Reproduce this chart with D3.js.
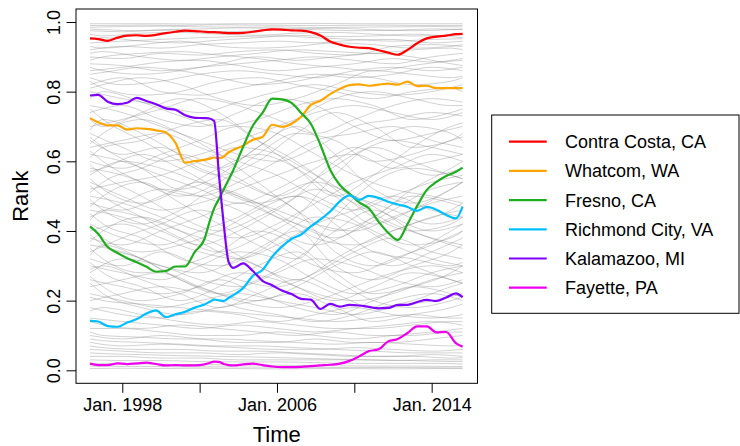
<!DOCTYPE html>
<html>
<head>
<meta charset="utf-8" />
<title>Rank over time</title>
<style>
    html, body { margin: 0; padding: 0; background: #fff; }
    svg { display: block; }
    text { font-family: "Liberation Sans", Arial, Helvetica, sans-serif; }
</style>
</head>
<body>
<svg width="740" height="446"></svg>
<script src="https://cdn.jsdelivr.net/npm/d3@7"></script>
<script>
// time grid (decimal years) shared by the highlighted counties
var years = [1996.33, 1996.75, 1997.25, 1997.75, 1998.25, 1998.75, 1999.25, 1999.75, 2000.25, 2000.75,
    2001.25, 2001.75, 2002.25, 2002.5, 2002.75, 2003.0, 2003.25, 2003.5, 2003.75,
    2004.25, 2004.75, 2005.25, 2005.75, 2006.25, 2006.75, 2007.25, 2007.75, 2008.25, 2008.75,
    2009.25, 2009.75, 2010.25, 2010.75, 2011.25, 2011.75, 2012.25, 2012.75, 2013.25, 2013.75,
    2014.25, 2014.75, 2015.25, 2015.6];

var contraCosta = [0.953, 0.951, 0.946, 0.955, 0.961, 0.962, 0.960, 0.963, 0.968, 0.972, 0.975, 0.974, 0.972,
    0.971, 0.971, 0.970, 0.969, 0.968, 0.968,
    0.969, 0.972, 0.976, 0.979, 0.978, 0.976, 0.975, 0.971, 0.961, 0.944, 0.935, 0.929, 0.926, 0.925,
    0.919, 0.912, 0.906, 0.920, 0.939, 0.953, 0.958, 0.961, 0.965, 0.966];
var whatcom = [0.724, 0.712, 0.703, 0.703, 0.691, 0.695, 0.693, 0.689, 0.683, 0.653, 0.596, 0.601, 0.604,
    0.607, 0.611, 0.609, 0.614, 0.626, 0.633,
    0.645, 0.662, 0.670, 0.705, 0.699, 0.708, 0.728, 0.762, 0.774, 0.793, 0.808, 0.819, 0.821, 0.817,
    0.820, 0.823, 0.820, 0.829, 0.816, 0.817, 0.810, 0.810, 0.810, 0.810];
var fresno = [0.413, 0.392, 0.354, 0.337, 0.322, 0.310, 0.297, 0.283, 0.285, 0.298, 0.298, 0.340, 0.377,
    0.424, 0.465, 0.492, 0.520, 0.547, 0.576,
    0.642, 0.702, 0.739, 0.780, 0.778, 0.768, 0.739, 0.708, 0.647, 0.576, 0.532, 0.507, 0.482, 0.465,
    0.427, 0.395, 0.374, 0.420, 0.472, 0.518, 0.541, 0.558, 0.570, 0.582];
var richmond = [0.142, 0.140, 0.127, 0.125, 0.137, 0.147, 0.163, 0.172, 0.153, 0.161, 0.168, 0.180, 0.189,
    0.196, 0.203, 0.201, 0.199, 0.208, 0.216,
    0.236, 0.271, 0.288, 0.326, 0.355, 0.377, 0.390, 0.413, 0.433, 0.456, 0.485, 0.502, 0.489, 0.501,
    0.495, 0.484, 0.476, 0.469, 0.458, 0.469, 0.461, 0.446, 0.436, 0.470];
var kalamazoo = [0.789, 0.791, 0.771, 0.764, 0.768, 0.782, 0.773, 0.764, 0.752, 0.748, 0.732, 0.725, 0.724,
    0.723, 0.716, 0.561, 0.418, 0.311, 0.294,
    0.307, 0.285, 0.257, 0.244, 0.229, 0.219, 0.205, 0.203, 0.176, 0.191, 0.183, 0.188, 0.186, 0.182,
    0.178, 0.179, 0.188, 0.188, 0.196, 0.202, 0.199, 0.209, 0.221, 0.210];
var fayette = [0.019, 0.015, 0.015, 0.020, 0.018, 0.020, 0.022, 0.018, 0.014, 0.015, 0.014, 0.014, 0.017,
    0.021, 0.025, 0.024, 0.018, 0.015, 0.014,
    0.017, 0.019, 0.015, 0.011, 0.009, 0.009, 0.010, 0.012, 0.014, 0.016, 0.019, 0.027, 0.040, 0.055,
    0.060, 0.083, 0.090, 0.107, 0.126, 0.126, 0.109, 0.110, 0.078, 0.068];

var seriesNames = ["Contra Costa, CA", "Whatcom, WA", "Fresno, CA", "Richmond City, VA", "Kalamazoo, MI", "Fayette, PA"];
var seriesColors = ["#ff0000", "#ffa500", "#1fae1f", "#00bfff", "#7f00ff", "#ee00ee"];
var seriesValues = [contraCosta, whatcom, fresno, richmond, kalamazoo, fayette];

// all other counties, two coarse grids
var bgYears = [1996.33, 1998, 2000, 2002, 2004, 2006, 2008, 2010, 2012, 2014, 2015.6];
var bgSeries = [
    [0.995, 0.995, 0.995, 0.994, 0.995, 0.995, 0.996, 0.995, 0.995, 0.995, 0.995],
    [0.985, 0.987, 0.988, 0.986, 0.985, 0.986, 0.984, 0.985, 0.986, 0.987, 0.986],
    [0.975, 0.972, 0.978, 0.980, 0.983, 0.982, 0.978, 0.975, 0.976, 0.980, 0.978],
    [0.94, 0.945, 0.95, 0.955, 0.958, 0.96, 0.955, 0.95, 0.945, 0.95, 0.952],
    [0.92, 0.93, 0.925, 0.935, 0.94, 0.945, 0.94, 0.948, 0.95, 0.94, 0.945],
    [0.90, 0.895, 0.91, 0.905, 0.915, 0.92, 0.91, 0.905, 0.93, 0.935, 0.93],
    [0.88, 0.875, 0.86, 0.87, 0.88, 0.89, 0.9, 0.89, 0.88, 0.9, 0.91],
    [0.86, 0.87, 0.885, 0.89, 0.875, 0.86, 0.87, 0.88, 0.895, 0.885, 0.89],
    [0.84, 0.82, 0.83, 0.85, 0.86, 0.85, 0.84, 0.86, 0.87, 0.86, 0.87],
    [0.82, 0.84, 0.8, 0.79, 0.81, 0.83, 0.85, 0.84, 0.85, 0.87, 0.86],
    [0.80, 0.78, 0.76, 0.74, 0.77, 0.8, 0.82, 0.8, 0.79, 0.8, 0.82],
    [0.76, 0.74, 0.7, 0.66, 0.62, 0.6, 0.64, 0.7, 0.72, 0.74, 0.73],
    [0.74, 0.76, 0.72, 0.7, 0.74, 0.78, 0.76, 0.7, 0.66, 0.68, 0.7],
    [0.70, 0.72, 0.75, 0.78, 0.76, 0.72, 0.68, 0.72, 0.76, 0.78, 0.77],
    [0.68, 0.64, 0.6, 0.62, 0.66, 0.7, 0.74, 0.76, 0.74, 0.72, 0.74],
    [0.66, 0.62, 0.64, 0.58, 0.54, 0.5, 0.55, 0.62, 0.66, 0.64, 0.62],
    [0.64, 0.66, 0.68, 0.64, 0.6, 0.56, 0.5, 0.46, 0.5, 0.54, 0.56],
    [0.62, 0.6, 0.56, 0.52, 0.48, 0.52, 0.58, 0.64, 0.6, 0.56, 0.58],
    [0.60, 0.58, 0.62, 0.66, 0.7, 0.68, 0.62, 0.56, 0.52, 0.5, 0.48],
    [0.58, 0.56, 0.52, 0.5, 0.54, 0.6, 0.66, 0.68, 0.7, 0.66, 0.64],
    [0.56, 0.6, 0.58, 0.54, 0.5, 0.46, 0.42, 0.4, 0.44, 0.48, 0.5],
    [0.54, 0.5, 0.46, 0.48, 0.52, 0.56, 0.6, 0.62, 0.58, 0.6, 0.62],
    [0.52, 0.54, 0.56, 0.6, 0.64, 0.62, 0.56, 0.5, 0.46, 0.42, 0.44],
    [0.50, 0.48, 0.44, 0.4, 0.38, 0.42, 0.48, 0.54, 0.58, 0.62, 0.6],
    [0.48, 0.46, 0.5, 0.54, 0.5, 0.44, 0.38, 0.36, 0.4, 0.44, 0.46],
    [0.46, 0.44, 0.4, 0.36, 0.4, 0.46, 0.52, 0.48, 0.42, 0.38, 0.36],
    [0.44, 0.48, 0.52, 0.5, 0.46, 0.4, 0.36, 0.4, 0.46, 0.52, 0.54],
    [0.42, 0.38, 0.36, 0.4, 0.44, 0.5, 0.54, 0.5, 0.44, 0.4, 0.42],
    [0.40, 0.42, 0.38, 0.34, 0.32, 0.36, 0.42, 0.46, 0.5, 0.46, 0.44],
    [0.38, 0.36, 0.4, 0.44, 0.48, 0.44, 0.4, 0.34, 0.3, 0.34, 0.38],
    [0.36, 0.34, 0.3, 0.28, 0.32, 0.38, 0.44, 0.42, 0.36, 0.32, 0.3],
    [0.34, 0.38, 0.42, 0.46, 0.42, 0.36, 0.3, 0.28, 0.32, 0.36, 0.4],
    [0.32, 0.3, 0.34, 0.3, 0.26, 0.24, 0.28, 0.34, 0.38, 0.34, 0.32],
    [0.30, 0.28, 0.26, 0.3, 0.34, 0.32, 0.26, 0.22, 0.24, 0.28, 0.3],
    [0.28, 0.32, 0.3, 0.26, 0.24, 0.28, 0.32, 0.3, 0.26, 0.24, 0.26],
    [0.26, 0.24, 0.22, 0.24, 0.28, 0.26, 0.22, 0.2, 0.22, 0.26, 0.28],
    [0.24, 0.26, 0.28, 0.24, 0.2, 0.18, 0.2, 0.24, 0.28, 0.3, 0.28],
    [0.22, 0.2, 0.18, 0.2, 0.22, 0.2, 0.18, 0.16, 0.18, 0.2, 0.22],
    [0.20, 0.22, 0.24, 0.22, 0.18, 0.16, 0.14, 0.16, 0.2, 0.22, 0.2],
    [0.18, 0.16, 0.15, 0.17, 0.16, 0.14, 0.16, 0.18, 0.16, 0.15, 0.16],
    [0.15, 0.14, 0.13, 0.12, 0.13, 0.12, 0.11, 0.12, 0.13, 0.14, 0.13],
    [0.12, 0.12, 0.11, 0.1, 0.1, 0.11, 0.1, 0.09, 0.1, 0.11, 0.12],
    [0.10, 0.09, 0.1, 0.09, 0.08, 0.08, 0.09, 0.08, 0.08, 0.09, 0.1],
    [0.08, 0.07, 0.075, 0.07, 0.065, 0.06, 0.06, 0.065, 0.06, 0.055, 0.06],
    [0.06, 0.055, 0.05, 0.05, 0.045, 0.05, 0.045, 0.04, 0.04, 0.045, 0.04],
    [0.04, 0.04, 0.035, 0.035, 0.03, 0.03, 0.03, 0.03, 0.028, 0.03, 0.03],
    [0.03, 0.028, 0.028, 0.025, 0.024, 0.024, 0.022, 0.02, 0.02, 0.02, 0.018],
    [0.005, 0.006, 0.005, 0.006, 0.005, 0.004, 0.005, 0.005, 0.004, 0.005, 0.005]
];

var bgYears2 = [1996.33, 1997, 1999, 2001, 2003, 2005, 2007, 2009, 2011, 2013, 2015, 2015.6];
var bgSeries2 = [
    [0.99, 0.99, 0.991, 0.99, 0.992, 0.991, 0.99, 0.99, 0.991, 0.99, 0.99, 0.99],
    [0.98, 0.978, 0.975, 0.977, 0.972, 0.975, 0.98, 0.982, 0.978, 0.975, 0.978, 0.98],
    [0.965, 0.96, 0.968, 0.97, 0.965, 0.962, 0.968, 0.97, 0.965, 0.96, 0.962, 0.965],
    [0.95, 0.955, 0.945, 0.94, 0.948, 0.955, 0.962, 0.958, 0.96, 0.965, 0.958, 0.955],
    [0.93, 0.925, 0.935, 0.945, 0.93, 0.925, 0.93, 0.94, 0.935, 0.925, 0.93, 0.935],
    [0.91, 0.915, 0.9, 0.89, 0.9, 0.91, 0.92, 0.915, 0.91, 0.92, 0.925, 0.92],
    [0.89, 0.9, 0.91, 0.915, 0.905, 0.895, 0.88, 0.87, 0.86, 0.875, 0.89, 0.895],
    [0.87, 0.86, 0.85, 0.86, 0.88, 0.9, 0.89, 0.9, 0.91, 0.9, 0.88, 0.875],
    [0.85, 0.855, 0.87, 0.86, 0.84, 0.82, 0.83, 0.85, 0.84, 0.82, 0.83, 0.84],
    [0.83, 0.81, 0.79, 0.8, 0.83, 0.84, 0.82, 0.8, 0.78, 0.8, 0.81, 0.8],
    [0.81, 0.82, 0.84, 0.82, 0.78, 0.76, 0.78, 0.82, 0.86, 0.85, 0.84, 0.845],
    [0.78, 0.8, 0.77, 0.73, 0.7, 0.72, 0.76, 0.78, 0.76, 0.72, 0.74, 0.75],
    [0.75, 0.72, 0.66, 0.6, 0.56, 0.6, 0.68, 0.74, 0.7, 0.64, 0.66, 0.68],
    [0.72, 0.7, 0.74, 0.78, 0.74, 0.66, 0.58, 0.5, 0.56, 0.64, 0.7, 0.71],
    [0.69, 0.72, 0.68, 0.62, 0.58, 0.64, 0.72, 0.78, 0.8, 0.78, 0.76, 0.76],
    [0.67, 0.64, 0.58, 0.52, 0.56, 0.64, 0.7, 0.62, 0.52, 0.48, 0.52, 0.54],
    [0.65, 0.68, 0.72, 0.68, 0.62, 0.54, 0.46, 0.4, 0.44, 0.52, 0.58, 0.6],
    [0.63, 0.6, 0.54, 0.5, 0.54, 0.62, 0.68, 0.66, 0.6, 0.62, 0.66, 0.67],
    [0.61, 0.64, 0.66, 0.7, 0.72, 0.66, 0.6, 0.52, 0.44, 0.4, 0.42, 0.44],
    [0.59, 0.56, 0.5, 0.44, 0.4, 0.44, 0.5, 0.6, 0.66, 0.7, 0.68, 0.66],
    [0.57, 0.58, 0.62, 0.58, 0.52, 0.48, 0.5, 0.46, 0.4, 0.36, 0.38, 0.4],
    [0.55, 0.52, 0.48, 0.52, 0.58, 0.62, 0.58, 0.5, 0.42, 0.46, 0.52, 0.54],
    [0.53, 0.5, 0.44, 0.38, 0.34, 0.38, 0.44, 0.56, 0.64, 0.6, 0.56, 0.55],
    [0.51, 0.54, 0.58, 0.62, 0.58, 0.52, 0.46, 0.34, 0.3, 0.34, 0.4, 0.42],
    [0.49, 0.46, 0.42, 0.46, 0.52, 0.48, 0.42, 0.38, 0.44, 0.5, 0.48, 0.47],
    [0.47, 0.5, 0.54, 0.48, 0.42, 0.36, 0.32, 0.44, 0.54, 0.58, 0.56, 0.55],
    [0.45, 0.42, 0.38, 0.32, 0.3, 0.34, 0.4, 0.3, 0.26, 0.3, 0.34, 0.36],
    [0.43, 0.46, 0.44, 0.4, 0.36, 0.3, 0.26, 0.32, 0.38, 0.42, 0.46, 0.48],
    [0.41, 0.38, 0.34, 0.36, 0.4, 0.46, 0.5, 0.42, 0.34, 0.32, 0.3, 0.31],
    [0.39, 0.36, 0.32, 0.26, 0.22, 0.26, 0.32, 0.4, 0.46, 0.4, 0.36, 0.35],
    [0.37, 0.4, 0.44, 0.4, 0.34, 0.3, 0.24, 0.2, 0.24, 0.28, 0.26, 0.25],
    [0.35, 0.32, 0.28, 0.3, 0.34, 0.4, 0.36, 0.28, 0.22, 0.24, 0.28, 0.3],
    [0.33, 0.36, 0.32, 0.26, 0.22, 0.2, 0.24, 0.3, 0.34, 0.3, 0.26, 0.25],
    [0.31, 0.28, 0.24, 0.2, 0.24, 0.3, 0.34, 0.26, 0.2, 0.18, 0.2, 0.21],
    [0.29, 0.3, 0.26, 0.22, 0.18, 0.22, 0.26, 0.22, 0.18, 0.2, 0.24, 0.25],
    [0.27, 0.24, 0.2, 0.22, 0.26, 0.22, 0.18, 0.16, 0.2, 0.24, 0.22, 0.21],
    [0.25, 0.22, 0.18, 0.16, 0.18, 0.2, 0.22, 0.18, 0.14, 0.16, 0.18, 0.19],
    [0.21, 0.2, 0.19, 0.18, 0.17, 0.16, 0.15, 0.14, 0.15, 0.16, 0.15, 0.15],
    [0.17, 0.18, 0.16, 0.14, 0.13, 0.14, 0.13, 0.12, 0.12, 0.13, 0.14, 0.14],
    [0.14, 0.13, 0.12, 0.13, 0.12, 0.11, 0.1, 0.11, 0.1, 0.1, 0.11, 0.11],
    [0.11, 0.1, 0.095, 0.09, 0.09, 0.085, 0.08, 0.075, 0.08, 0.075, 0.07, 0.072],
    [0.09, 0.085, 0.08, 0.075, 0.07, 0.07, 0.065, 0.06, 0.055, 0.05, 0.05, 0.05],
    [0.07, 0.065, 0.06, 0.06, 0.055, 0.055, 0.05, 0.045, 0.04, 0.04, 0.035, 0.036],
    [0.05, 0.048, 0.045, 0.042, 0.04, 0.038, 0.035, 0.032, 0.03, 0.028, 0.025, 0.025],
    [0.02, 0.02, 0.018, 0.017, 0.016, 0.015, 0.014, 0.013, 0.012, 0.012, 0.011, 0.011],
    [0.012, 0.012, 0.011, 0.01, 0.01, 0.009, 0.009, 0.008, 0.008, 0.008, 0.007, 0.007]
];

var xTickYears = [1998, 2002, 2006, 2010, 2014];
var xTickLabels = ["Jan. 1998", "", "Jan. 2006", "", "Jan. 2014"];
var yTicks = [0, 0.2, 0.4, 0.6, 0.8, 1.0];

var svg = d3.select("svg");
var box = { left: 76, top: 9, right: 477.5, bottom: 383.3 };

var x = d3.scaleLinear().domain([1996.33, 2015.6]).range([90, 462.6]);
var y = d3.scaleLinear().domain([0, 1]).range([370.3, 22]);

// background counties
function bgLayer(grid, rows) {
    var l = d3.line()
        .x(function (d, i) { return x(grid[i]); })
        .y(function (d) { return y(d); })
        .curve(d3.curveMonotoneX);
    svg.append("g")
        .selectAll("path")
        .data(rows)
        .enter().append("path")
        .attr("d", l)
        .attr("fill", "none")
        .attr("stroke", "#7a7a7a")
        .attr("stroke-opacity", 0.38)
        .attr("stroke-width", 0.9);
}
bgLayer(bgYears, bgSeries);
bgLayer(bgYears2, bgSeries2);

// highlighted counties
var line = d3.line()
    .x(function (d, i) { return x(years[i]); })
    .y(function (d) { return y(d); })
    .curve(d3.curveMonotoneX);

svg.append("g")
    .selectAll("path")
    .data(seriesValues)
    .enter().append("path")
    .attr("d", line)
    .attr("fill", "none")
    .attr("stroke", function (d, i) { return seriesColors[i]; })
    .attr("stroke-width", 2.2)
    .attr("stroke-linejoin", "round");

// plot frame
svg.append("rect")
    .attr("x", box.left).attr("y", box.top)
    .attr("width", box.right - box.left).attr("height", box.bottom - box.top)
    .attr("fill", "none").attr("stroke", "#000").attr("stroke-width", 1);

// axes
var xAxis = svg.append("g")
    .attr("transform", "translate(0," + box.bottom + ")")
    .call(d3.axisBottom(x).tickValues(xTickYears)
        .tickFormat(function (d, i) { return xTickLabels[i]; })
        .tickSize(9.5).tickSizeOuter(0).tickPadding(5.5));

var yAxis = svg.append("g")
    .attr("transform", "translate(" + box.left + ",0)")
    .call(d3.axisLeft(y).tickValues(yTicks).tickFormat(d3.format(".1f"))
        .tickSize(9.5).tickSizeOuter(0));

yAxis.selectAll(".tick text")
    .attr("x", null).attr("dy", null)
    .attr("text-anchor", "middle")
    .attr("transform", "translate(-16,0) rotate(-90)");

[xAxis, yAxis].forEach(function (a) {
    a.select(".domain").remove();
    a.selectAll(".tick line").attr("stroke", "#000");
    a.selectAll(".tick text").attr("fill", "#000").style("font-size", "18px")
        .style("font-family", "'Liberation Sans', Arial, sans-serif");
});

// axis titles
svg.append("text")
    .attr("x", (box.left + box.right) / 2).attr("y", 441.5)
    .attr("text-anchor", "middle")
    .style("font-size", "22px")
    .text("Time");

svg.append("text")
    .attr("transform", "translate(28," + ((box.top + box.bottom) / 2) + ") rotate(-90)")
    .attr("text-anchor", "middle")
    .style("font-size", "22px")
    .text("Rank");

// legend
var legend = svg.append("g");
legend.append("rect")
    .attr("x", 491.7).attr("y", 115)
    .attr("width", 247.3).attr("height", 198.3)
    .attr("fill", "#fff").attr("stroke", "#000").attr("stroke-width", 1);

var rowY = d3.scaleLinear().domain([0, 5]).range([141.7, 287.7]);
var rows = legend.selectAll("g.row")
    .data(seriesNames)
    .enter().append("g")
    .attr("class", "row")
    .attr("transform", function (d, i) { return "translate(0," + rowY(i) + ")"; });

rows.append("line")
    .attr("x1", 509).attr("x2", 546.7)
    .attr("stroke", function (d, i) { return seriesColors[i]; })
    .attr("stroke-width", 2.2);

rows.append("text")
    .attr("x", 565).attr("y", 6.5)
    .style("font-size", "18px")
    .text(function (d) { return d; });
</script>
</body>
</html>
